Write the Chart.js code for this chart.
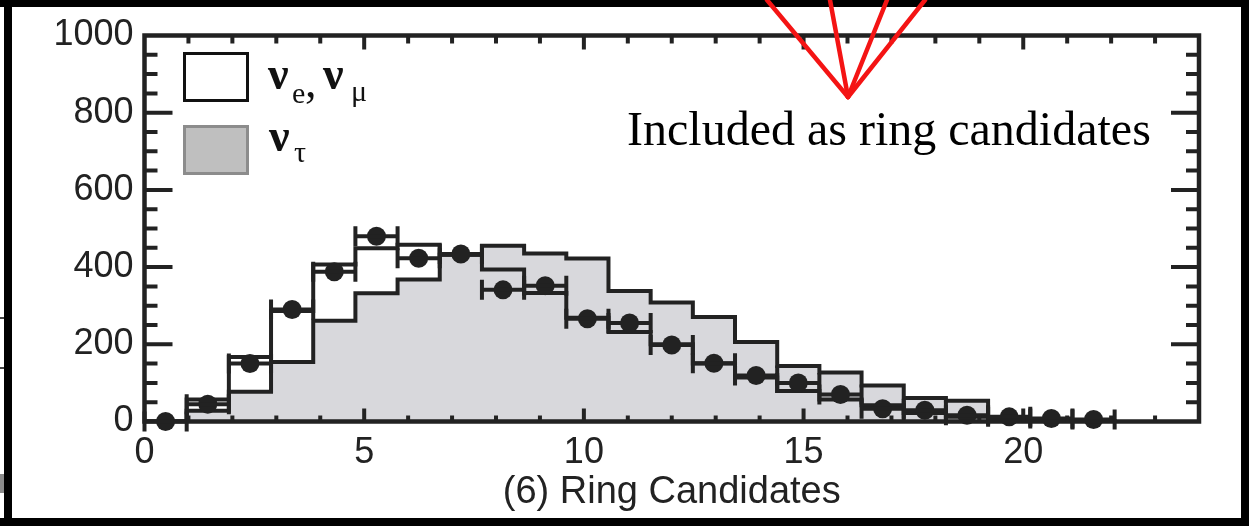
<!DOCTYPE html>
<html>
<head>
<meta charset="utf-8">
<script src="https://cdn.jsdelivr.net/npm/chart.js@4.4.0/dist/chart.umd.min.js"></script>
<style>
  html, body { margin: 0; padding: 0; background: #fff; }
  #wrap { position: relative; width: 1249px; height: 526px; }
</style>
</head>
<body>
<div id="wrap"><canvas id="ringChart" width="1249" height="526"></canvas></div>
<script>
// bin edges on the "(6) Ring Candidates" axis
const binEdges = [0, 0.96, 1.92, 2.88, 3.84, 4.8, 5.76, 6.72, 7.68, 8.64, 9.6, 10.56,
  11.52, 12.48, 13.44, 14.4, 15.36, 16.32, 17.28, 18.24, 19.2, 20.16, 21.12, 22.08];

// data points (black dots with horizontal bars)
const dataCounts = [0, 45, 150, 290, 388, 480, 423, 434, 341, 352, 266, 255,
  198, 151, 119, 100, 70, 33, 29, 16, 12, 8, 5];

// nu_e, nu_mu histogram (white)
const nuEMu = [0, 57, 167, 286, 407, 449, 458, 432, 394, 333, 269, 232,
  200, 150, 114, 79, 57, 42, 22, 12, 5, 3, 1];

// nu_tau histogram (grey)
const nuTau = [0, 28, 77, 154, 261, 332, 368, 432, 455, 435, 422, 338,
  308, 271, 206, 144, 127, 93, 61, 54];

const xTicks = [0, 5, 10, 15, 20];
const yTicks = [0, 200, 400, 600, 800, 1000];

const ink = '#222';

// turn bin contents into points for a stepped line
function stepPoints(values) {
  const pts = values.map((v, i) => ({ x: binEdges[i], y: v }));
  pts.push({ x: binEdges[values.length], y: 0 });
  return pts;
}

const pointData = dataCounts.map((v, i) => ({ x: (binEdges[i] + binEdges[i + 1]) / 2, y: v }));

// white page + black outer frame of the slide
const backdrop = {
  id: 'backdrop',
  beforeDraw(chart) {
    const ctx = chart.ctx;
    ctx.save();
    ctx.fillStyle = '#fff';
    ctx.fillRect(0, 0, chart.width, chart.height);
    ctx.fillStyle = '#000';
    ctx.fillRect(0, 0, chart.width, 7);
    ctx.fillRect(4, 0, 8, chart.height);
    ctx.fillRect(0, 518, chart.width, 8);
    ctx.fillRect(1241, 0, 8, chart.height);
    // bits of the page underneath on the far left
    ctx.fillStyle = '#444';
    ctx.fillRect(0, 317, 4, 2);
    ctx.fillRect(0, 367, 4, 2);
    ctx.fillStyle = '#8a8a8a';
    ctx.fillRect(0, 474, 4, 19);
    ctx.restore();
  }
};

// horizontal bin-width bars with end caps
const errorBars = {
  id: 'errorBars',
  afterDatasetsDraw(chart) {
    const ctx = chart.ctx;
    const xs = chart.scales.x, ys = chart.scales.y;
    ctx.save();
    ctx.strokeStyle = ink;
    ctx.lineWidth = 4;
    dataCounts.forEach((v, i) => {
      const x1 = xs.getPixelForValue(binEdges[i]);
      const x2 = xs.getPixelForValue(binEdges[i + 1]);
      const y = ys.getPixelForValue(v);
      ctx.beginPath();
      ctx.moveTo(x1, y); ctx.lineTo(x2, y);
      ctx.moveTo(x1, y - 10); ctx.lineTo(x1, y + 10);
      ctx.moveTo(x2, y - 10); ctx.lineTo(x2, y + 10);
      ctx.stroke();
    });
    ctx.restore();
  }
};

// boxed frame with inward ticks, legend, note and arrows
const decorations = {
  id: 'decorations',
  afterDraw(chart) {
    const ctx = chart.ctx;
    const { left, right, top, bottom } = chart.chartArea;
    const xs = chart.scales.x, ys = chart.scales.y;
    ctx.save();
    ctx.strokeStyle = ink;
    ctx.lineWidth = 4.5;
    ctx.strokeRect(left, top, right - left, bottom - top);

    ctx.lineWidth = 4;
    ctx.beginPath();
    for (let v = 50; v < 1000; v += 50) {
      const y = ys.getPixelForValue(v);
      const len = v % 200 === 0 ? 28 : 13;
      ctx.moveTo(left, y); ctx.lineTo(left + len, y);
      ctx.moveTo(right, y); ctx.lineTo(right - len, y);
    }
    for (let v = 1; v < 24; v++) {
      const x = xs.getPixelForValue(v);
      const major = v % 5 === 0;
      ctx.moveTo(x, bottom); ctx.lineTo(x, bottom - (major ? 13 : 6));
      ctx.moveTo(x, top); ctx.lineTo(x, top + (major ? 14 : 8));
    }
    ctx.stroke();

    // legend
    ctx.lineWidth = 3;
    ctx.fillStyle = '#fff';
    ctx.fillRect(184.5, 53.5, 63, 47);
    ctx.strokeStyle = '#111';
    ctx.strokeRect(184.5, 53.5, 63, 47);
    ctx.fillStyle = '#bfbfbf';
    ctx.fillRect(184.5, 126.5, 63, 47);
    ctx.strokeStyle = '#8c8c8c';
    ctx.strokeRect(184.5, 126.5, 63, 47);

    ctx.fillStyle = '#111';
    ctx.textBaseline = 'alphabetic';
    ctx.textAlign = 'left';
    const big = 'bold 46px "Liberation Serif"', small = '30px "Liberation Serif"';
    ctx.font = big; ctx.fillText('ν', 268, 89);
    ctx.font = small; ctx.fillText('e', 292, 103);
    ctx.font = '46px "Liberation Serif"'; ctx.fillText(',', 305, 97);
    ctx.font = big; ctx.fillText('ν', 323, 89);
    ctx.font = small; ctx.fillText('μ', 351, 101);
    ctx.font = big; ctx.fillText('ν', 269, 151);
    ctx.font = small; ctx.fillText('τ', 294, 162);

    // note and red pointer lines
    ctx.font = '48px "Liberation Serif"';
    ctx.fillStyle = '#000';
    ctx.fillText('Included as ring candidates', 627, 145);

    ctx.strokeStyle = '#f41414';
    ctx.lineWidth = 4.5;
    ctx.lineCap = 'round';
    const ax = 848, ay = 97;
    [767, 830, 887, 925].forEach(tx => {
      ctx.beginPath();
      ctx.moveTo(ax, ay); ctx.lineTo(tx, 0);
      ctx.stroke();
    });
    ctx.restore();
  }
};

new Chart(document.getElementById('ringChart'), {
  type: 'scatter',
  data: {
    datasets: [
      {
        label: 'data',
        data: pointData,
        pointRadius: 9.5,
        pointHoverRadius: 9.5,
        pointBackgroundColor: ink,
        pointBorderWidth: 0,
        showLine: false,
        clip: false
      },
      {
        label: 'nu_e, nu_mu',
        data: stepPoints(nuEMu),
        showLine: true,
        stepped: 'before',
        borderColor: ink,
        borderWidth: 4,
        borderJoinStyle: 'miter',
        pointRadius: 0,
        fill: false
      },
      {
        label: 'nu_tau',
        data: stepPoints(nuTau),
        showLine: true,
        stepped: 'before',
        borderColor: ink,
        borderWidth: 4,
        borderJoinStyle: 'miter',
        backgroundColor: '#d8d8dc',
        pointRadius: 0,
        fill: 'origin'
      }
    ]
  },
  options: {
    responsive: false,
    animation: false,
    devicePixelRatio: 1,
    layout: { padding: { top: 35.5, right: 50, bottom: 0, left: 0 } },
    plugins: { legend: { display: false }, tooltip: { enabled: false } },
    scales: {
      x: {
        type: 'linear',
        min: 0,
        max: 24,
        afterFit: s => { s.height = 104.5; },
        afterBuildTicks: s => { s.ticks = xTicks.map(v => ({ value: v })); },
        grid: { display: false, drawTicks: false },
        border: { display: false },
        ticks: {
          padding: 10,
          color: ink,
          font: { family: '"Liberation Sans", Arial, sans-serif', size: 36 },
          callback: v => String(v)
        },
        title: {
          display: true,
          text: '(6) Ring Candidates',
          color: ink,
          padding: { top: 0, bottom: 11 },
          font: { family: '"Liberation Sans", Arial, sans-serif', size: 38 }
        }
      },
      y: {
        min: 0,
        max: 1000,
        afterFit: s => { s.width = 144.5; },
        afterBuildTicks: s => { s.ticks = yTicks.map(v => ({ value: v })); },
        grid: { display: false, drawTicks: false },
        border: { display: false },
        ticks: {
          padding: 11,
          color: ink,
          font: { family: '"Liberation Sans", Arial, sans-serif', size: 36 },
          callback: v => String(v)
        }
      }
    }
  },
  plugins: [backdrop, errorBars, decorations]
});
</script>
</body>
</html>
